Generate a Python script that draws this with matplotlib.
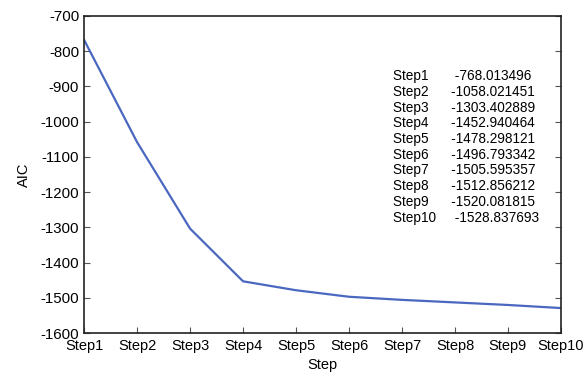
import matplotlib
matplotlib.use("Agg")
import matplotlib.pyplot as plt

steps = ["Step1", "Step2", "Step3", "Step4", "Step5", "Step6", "Step7", "Step8", "Step9", "Step10"]
aic = [-768.013496, -1058.021451, -1303.402889, -1452.940464, -1478.298121,
       -1496.793342, -1505.595357, -1512.856212, -1520.081815, -1528.837693]
aic_text = ["-768.013496", "-1058.021451", "-1303.402889", "-1452.940464", "-1478.298121",
            "-1496.793342", "-1505.595357", "-1512.856212", "-1520.081815", "-1528.837693"]
yticks = [-700, -800, -900, -1000, -1100, -1200, -1300, -1400, -1500, -1600]

plt.rcParams['font.family'] = ['Liberation Sans', 'DejaVu Sans']

fig = plt.figure(figsize=(5.88, 3.79), dpi=100)
ax = fig.add_axes([0.143, 0.121, 0.811, 0.837])
x = list(range(len(steps)))
ax.plot(x, aic, color="#4a68c0", linewidth=1.6)
ax.set_xlim(0, len(steps) - 1)
ax.set_ylim(-1600, -700)
ax.set_xticks(x)
ax.set_xticklabels(steps, fontsize=10.5)
ax.set_yticks(yticks)
ax.set_yticklabels([str(v) for v in yticks], fontsize=10.8)
ax.tick_params(axis='both', direction='in', length=4, width=0.8, colors='#555555', labelcolor='black')
ax.tick_params(axis='y', right=True)
ax.tick_params(axis='x', pad=4)
for s in ax.spines.values():
    s.set_linewidth(1.2)
    s.set_color('#222222')
ax.set_xlabel("Step", fontsize=10.5, labelpad=4)
ax.set_ylabel("AIC", fontsize=10.5, labelpad=7)

lines = []
for lab, val in zip(steps, aic_text):
    if lab == "Step1":
        sp = " " * 7
    elif lab == "Step10":
        sp = " " * 5
    else:
        sp = " " * 6
    lines.append(f"{lab}{sp}{val}")
ax.text(0.648, 0.832, "\n".join(lines), transform=ax.transAxes, fontsize=9.8,
        va='top', ha='left', linespacing=1.155)

fig.savefig("out.png", dpi=100)
